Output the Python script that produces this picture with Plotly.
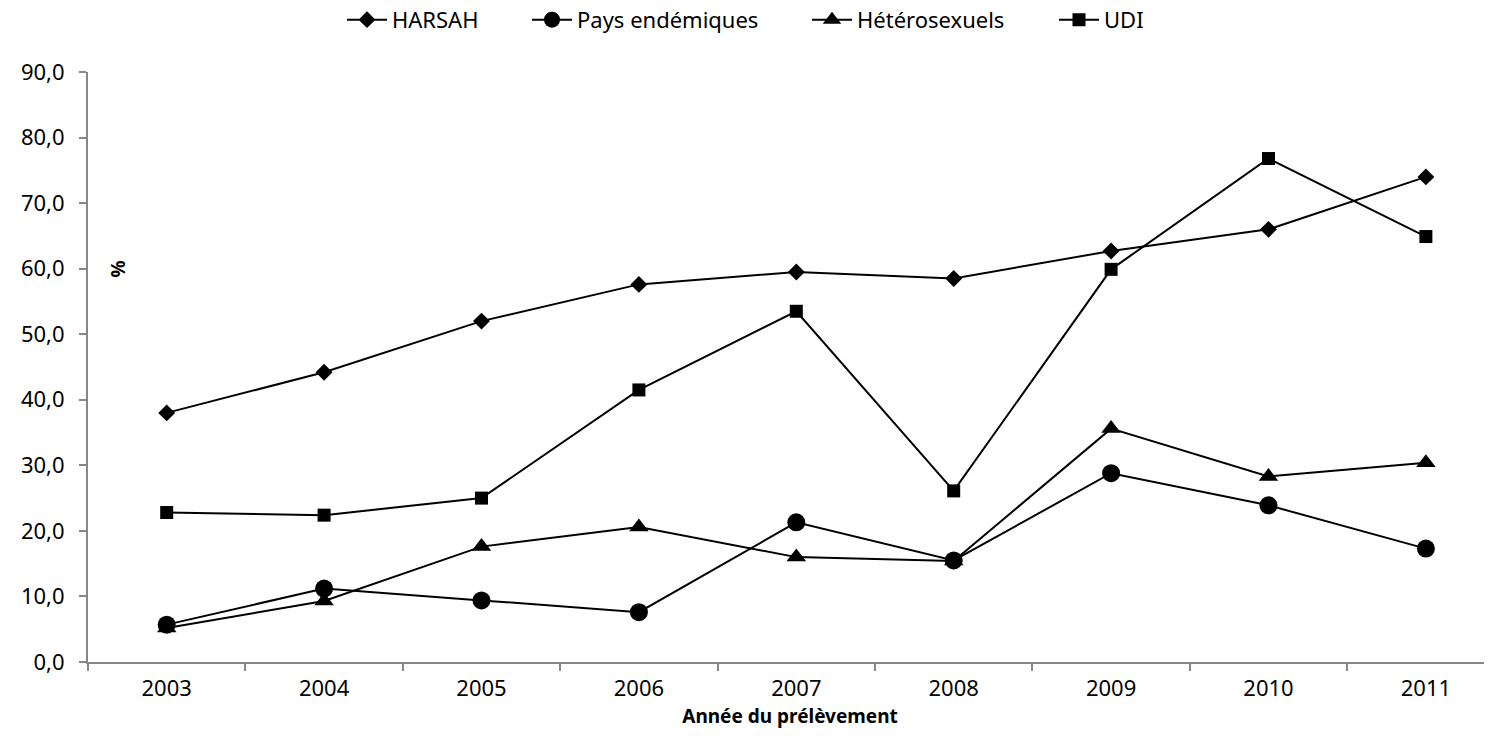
import plotly.graph_objects as go

years = ["2003", "2004", "2005", "2006", "2007", "2008", "2009", "2010", "2011"]
harsah = [38.0, 44.2, 52.0, 57.6, 59.5, 58.5, 62.7, 66.0, 74.0]
pays_endemiques = [5.7, 11.2, 9.4, 7.6, 21.3, 15.5, 28.8, 23.9, 17.3]
heterosexuels = [5.2, 9.3, 17.6, 20.6, 16.0, 15.4, 35.6, 28.3, 30.4]
udi = [22.8, 22.4, 25.0, 41.5, 53.5, 26.1, 59.9, 76.8, 64.9]

series_names = ["HARSAH", "Pays endémiques", "Hétérosexuels", "UDI"]
series_values = [harsah, pays_endemiques, heterosexuels, udi]
symbols = ["diamond", "circle", "triangle-up", "square"]
sizes = [13, 18, 17, 13]

# left edge (px, in figure coords) of each legend entry's text
legend_text_px = [385, 570, 850, 1097]
W, H = 1484, 742

fig = go.Figure()
legend_ids = ["legend", "legend2", "legend3", "legend4"]
for name, vals, sym, size, lid in zip(series_names, series_values, symbols, sizes, legend_ids):
    fig.add_trace(go.Scatter(
        x=years, y=vals, name=name, mode="lines+markers",
        line=dict(color="black", width=2),
        marker=dict(symbol=sym, size=size, color="black"),
        legend=lid,
    ))

axis_col = "#878787"
legend_layout = {}
for lid, tx in zip(legend_ids, legend_text_px):
    legend_layout[lid] = dict(orientation="v", x=(tx - 51) / W, xanchor="left", xref="container",
                              y=0.984, yanchor="middle", yref="container",
                              font=dict(size=22), itemwidth=40, bgcolor="white",
                              borderwidth=0)

fig.update_layout(
    width=W, height=H,
    paper_bgcolor="white", plot_bgcolor="white",
    margin=dict(l=80, r=0, t=64, b=88, autoexpand=False),
    font=dict(family="Noto Sans", size=22, color="black"),
    separators=", ",
    showlegend=True,
    xaxis=dict(type="category", range=[-0.5, 8.42], showgrid=False,
               showline=True, linecolor=axis_col, linewidth=2,
               ticks="outside", tickson="boundaries", ticklen=7,
               tickcolor=axis_col, tickwidth=2, automargin=False,
               ticklabelstandoff=6,
               title=dict(text="<b>Année du prélèvement</b>", font=dict(size=19), standoff=8),
               tickfont=dict(size=22), zeroline=False),
    yaxis=dict(range=[0, 90], dtick=10, tickformat=".1f", showgrid=False,
               showline=True, linecolor=axis_col, linewidth=2,
               ticks="outside", ticklen=7, tickcolor=axis_col, tickwidth=2,
               automargin=False, ticklabelstandoff=10,
               tickfont=dict(size=22), zeroline=False),
    annotations=[dict(text="<b>%</b>", x=-0.31, y=60.0, xref="x", yref="y",
                      showarrow=False, textangle=-90, font=dict(size=19))],
    **legend_layout,
)

fig.write_html("out.html")
